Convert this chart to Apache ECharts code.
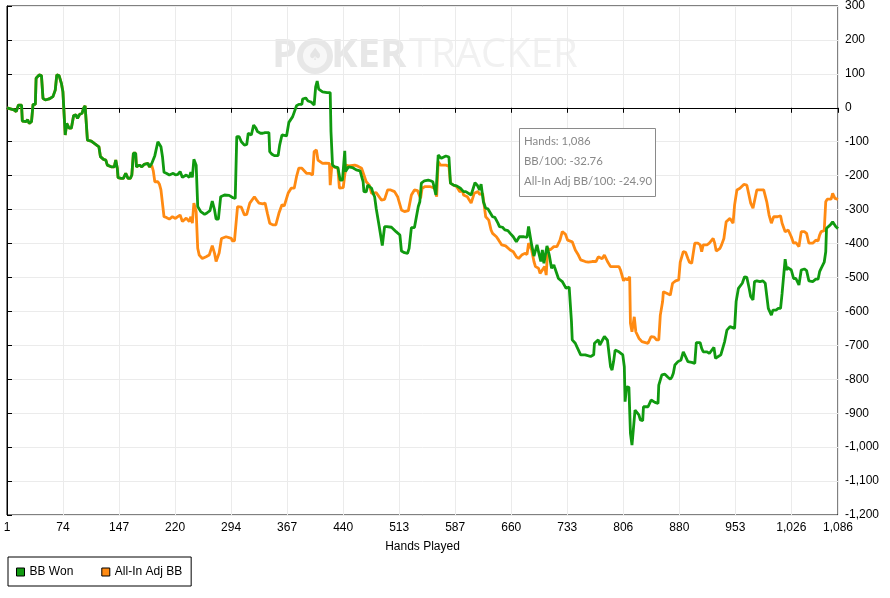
<!DOCTYPE html>
<html>
<head>
<meta charset="utf-8">
<script src="https://cdn.jsdelivr.net/npm/echarts@6/dist/echarts.min.js"></script>
<style>
html,body{margin:0;padding:0;background:#fff;}
#chart{width:890px;height:598px;}
</style>
</head>
<body>
<div id="chart"></div>
<script>
// ---- data (hand number, cumulative BB) ----
var seriesNames = ['BB Won', 'All-In Adj BB'];

var bbWon = [[1,0],[10,-6],[13,-11],[16,8],[20,8],[21,-39],[26,-41],[28,-35],[30,-46],[33,-41],[35,10],[38,10],[39,87],[41,87],[43,97],[46,95],[48,28],[51,23],[56,26],[61,33],[64,52],[66,97],[69,95],[72,72],[74,47],[77,-80],[79,-46],[82,-60],[85,-60],[88,-23],[91,-21],[93,-31],[96,-19],[99,-16],[101,-1],[103,6],[105,4],[106,-95],[111,-98],[115,-105],[117,-110],[121,-115],[123,-144],[127,-152],[130,-154],[132,-169],[137,-174],[141,-174],[143,-154],[145,-178],[146,-206],[150,-208],[153,-208],[156,-193],[159,-208],[162,-208],[164,-198],[166,-134],[169,-134],[170,-174],[174,-169],[177,-174],[180,-167],[185,-164],[187,-174],[190,-164],[192,-169],[194,-141],[195,-141],[198,-100],[200,-100],[202,-115],[204,-144],[206,-190],[209,-193],[213,-198],[215,-200],[218,-193],[221,-198],[224,-196],[227,-188],[230,-205],[232,-205],[235,-198],[237,-193],[239,-205],[241,-190],[243,-205],[245,-152],[248,-169],[250,-291],[254,-306],[259,-314],[262,-310],[266,-303],[269,-275],[272,-301],[274,-328],[277,-328],[280,-262],[285,-257],[291,-258],[296,-265],[299,-267],[301,-85],[304,-85],[307,-100],[311,-110],[314,-108],[316,-75],[320,-80],[323,-51],[326,-60],[328,-70],[332,-75],[335,-75],[338,-73],[343,-73],[344,-129],[347,-137],[350,-141],[355,-141],[357,-110],[360,-80],[362,-83],[366,-83],[369,-43],[371,-39],[374,-26],[376,-24],[379,6],[382,10],[386,10],[387,26],[391,29],[394,20],[398,17],[402,8],[404,62],[406,79],[408,55],[410,53],[413,47],[419,45],[423,45],[424,-70],[426,-169],[429,-174],[433,-176],[436,-213],[439,-213],[442,-127],[443,-188],[444,-188],[447,-174],[452,-176],[457,-183],[462,-186],[466,-218],[467,-247],[470,-248],[472,-228],[474,-226],[477,-237],[479,-252],[481,-262],[483,-296],[485,-293],[487,-350],[489,-350],[491,-406],[492,-404],[494,-350],[497,-350],[503,-352],[505,-350],[509,-365],[514,-375],[516,-422],[520,-427],[524,-429],[526,-414],[529,-353],[533,-353],[535,-350],[538,-291],[540,-277],[542,-222],[546,-215],[551,-213],[554,-215],[557,-218],[559,-215],[561,-257],[564,-139],[566,-141],[568,-149],[570,-147],[574,-142],[578,-145],[580,-222],[584,-228],[588,-230],[593,-237],[595,-242],[597,-247],[600,-247],[602,-252],[607,-257],[609,-257],[612,-221],[615,-228],[618,-242],[620,-225],[621,-222],[623,-277],[626,-296],[629,-298],[635,-321],[638,-323],[642,-340],[644,-350],[648,-352],[651,-360],[655,-362],[658,-370],[662,-380],[666,-395],[668,-395],[670,-380],[676,-380],[680,-382],[682,-350],[684,-353],[686,-404],[689,-437],[690,-440],[693,-404],[696,-434],[698,-453],[700,-419],[702,-458],[703,-458],[706,-407],[709,-434],[712,-473],[715,-463],[716,-470],[721,-503],[726,-512],[728,-512],[731,-532],[733,-528],[735,-528],[738,-630],[739,-684],[743,-694],[745,-704],[750,-728],[756,-728],[763,-733],[767,-728],[768,-694],[773,-684],[775,-699],[777,-694],[781,-674],[785,-685],[787,-724],[789,-763],[791,-773],[793,-748],[795,-714],[800,-719],[801,-714],[805,-728],[807,-763],[808,-866],[810,-822],[813,-824],[815,-959],[817,-994],[819,-989],[821,-891],[823,-893],[826,-905],[828,-920],[831,-922],[832,-881],[838,-881],[839,-884],[842,-861],[847,-868],[851,-871],[852,-817],[856,-787],[860,-785],[864,-794],[867,-800],[869,-794],[871,-782],[873,-758],[877,-748],[879,-750],[881,-743],[884,-719],[886,-719],[890,-748],[895,-750],[899,-753],[901,-692],[906,-692],[908,-709],[910,-719],[915,-719],[918,-724],[920,-719],[924,-706],[926,-738],[928,-738],[933,-728],[935,-724],[938,-689],[941,-655],[945,-645],[947,-650],[951,-650],[953,-571],[956,-532],[958,-535],[961,-517],[964,-498],[967,-500],[970,-532],[972,-556],[975,-566],[977,-512],[980,-510],[984,-512],[988,-510],[991,-517],[995,-591],[999,-611],[1001,-596],[1005,-596],[1008,-591],[1011,-591],[1013,-547],[1014,-547],[1017,-446],[1019,-478],[1020,-470],[1025,-478],[1028,-503],[1031,-503],[1035,-522],[1038,-478],[1042,-475],[1045,-480],[1048,-510],[1053,-512],[1057,-505],[1060,-505],[1062,-483],[1064,-473],[1068,-455],[1070,-424],[1071,-355],[1076,-345],[1079,-336],[1083,-350],[1086,-356]];

var allInAdj = [[1,0],[10,-6],[13,-11],[16,8],[20,8],[21,-39],[26,-41],[28,-35],[30,-46],[33,-41],[35,10],[38,10],[39,87],[41,87],[43,97],[46,95],[48,28],[51,23],[56,26],[61,33],[64,52],[66,97],[69,95],[72,72],[74,47],[77,-80],[79,-46],[82,-60],[85,-60],[88,-23],[91,-21],[93,-31],[96,-19],[99,-16],[101,-1],[103,6],[105,4],[106,-95],[111,-98],[115,-105],[117,-110],[121,-115],[123,-144],[127,-152],[130,-154],[132,-169],[137,-174],[141,-174],[143,-154],[145,-178],[146,-206],[150,-208],[153,-208],[156,-193],[159,-208],[162,-208],[164,-198],[166,-134],[169,-134],[170,-174],[174,-169],[177,-174],[180,-167],[185,-164],[187,-174],[190,-170],[192,-186],[194,-218],[198,-218],[200,-225],[202,-242],[204,-244],[206,-321],[209,-323],[213,-328],[217,-321],[221,-326],[224,-321],[227,-316],[230,-335],[232,-335],[235,-325],[237,-321],[239,-335],[241,-321],[243,-340],[245,-281],[248,-306],[250,-414],[252,-434],[256,-444],[261,-439],[265,-434],[269,-406],[272,-429],[274,-453],[276,-458],[278,-428],[281,-385],[287,-380],[294,-385],[295,-392],[298,-392],[302,-291],[307,-293],[311,-316],[314,-314],[318,-281],[320,-284],[324,-262],[327,-272],[330,-281],[335,-283],[338,-281],[341,-311],[344,-340],[348,-345],[352,-345],[356,-311],[360,-286],[363,-289],[368,-252],[372,-237],[376,-237],[379,-203],[382,-178],[386,-178],[392,-193],[396,-193],[400,-198],[402,-129],[405,-124],[407,-154],[408,-156],[413,-164],[417,-163],[422,-164],[423,-228],[425,-174],[428,-174],[430,-178],[433,-178],[435,-237],[440,-235],[442,-198],[444,-169],[447,-171],[449,-169],[455,-169],[459,-172],[464,-178],[466,-183],[470,-218],[472,-213],[474,-228],[477,-252],[479,-252],[483,-250],[485,-247],[490,-272],[494,-270],[498,-242],[502,-242],[507,-247],[511,-262],[516,-301],[520,-306],[525,-303],[529,-257],[533,-242],[537,-244],[541,-267],[543,-237],[547,-232],[553,-232],[557,-235],[560,-237],[562,-262],[564,-159],[567,-169],[569,-171],[574,-169],[578,-172],[580,-222],[584,-228],[588,-232],[592,-247],[596,-245],[597,-257],[602,-262],[607,-281],[611,-252],[616,-247],[618,-255],[620,-252],[622,-252],[624,-255],[626,-321],[630,-331],[633,-360],[635,-370],[640,-380],[643,-390],[647,-404],[652,-407],[653,-407],[658,-419],[662,-424],[666,-439],[669,-444],[673,-434],[677,-429],[680,-432],[682,-399],[686,-419],[689,-453],[691,-468],[695,-473],[697,-488],[699,-493],[703,-468],[705,-493],[707,-414],[710,-419],[715,-409],[719,-409],[721,-404],[723,-390],[726,-365],[730,-372],[733,-390],[739,-395],[743,-419],[747,-434],[750,-448],[752,-453],[756,-453],[760,-455],[765,-453],[770,-453],[773,-439],[775,-441],[778,-445],[781,-434],[785,-453],[787,-453],[789,-468],[795,-468],[800,-468],[802,-478],[804,-478],[806,-510],[808,-503],[811,-507],[814,-498],[815,-635],[817,-660],[820,-616],[822,-660],[824,-665],[826,-679],[830,-689],[838,-694],[840,-694],[842,-674],[846,-676],[849,-684],[852,-684],[854,-611],[857,-571],[858,-542],[863,-547],[867,-552],[870,-517],[874,-510],[878,-507],[880,-455],[884,-424],[887,-426],[890,-444],[892,-455],[895,-458],[897,-460],[899,-399],[903,-399],[906,-404],[908,-424],[910,-404],[915,-404],[918,-399],[920,-401],[923,-385],[925,-399],[927,-422],[932,-414],[934,-404],[937,-385],[940,-336],[945,-326],[949,-340],[951,-286],[954,-242],[958,-237],[963,-226],[967,-228],[969,-232],[972,-281],[975,-296],[977,-293],[980,-242],[985,-242],[989,-242],[991,-247],[993,-277],[996,-316],[999,-340],[1002,-321],[1007,-321],[1011,-318],[1013,-340],[1017,-365],[1019,-365],[1021,-360],[1025,-380],[1028,-399],[1031,-397],[1035,-409],[1038,-365],[1042,-365],[1045,-370],[1048,-399],[1053,-399],[1057,-390],[1060,-392],[1062,-375],[1064,-365],[1068,-362],[1070,-277],[1072,-269],[1077,-269],[1079,-252],[1082,-267],[1086,-270]];

var xTickHands = [1,74,147,220,294,367,440,513,587,660,733,806,880,953,1026,1086];
var xTickStep = 73.15;   // hands between x ticks
var yMin = -1200, yMax = 300, yStep = 100;
var totalHands = 1086;
var infoLines = ['Hands: 1,086', 'BB/100: -32.76', 'All-In Adj BB/100: -24.90'];

// ---- build ----
function toXY(points) {
  return points.map(function (p) { return [p[0] - 1, p[1]]; });
}
function fmt(n) { return Math.round(n).toLocaleString('en-US'); }

var chart = echarts.init(document.getElementById('chart'), null, { renderer: 'canvas' });
var axisFont = 'Liberation Sans';

var option = {
  animation: false,
  backgroundColor: '#ffffff',
  grid: {
    left: 7, right: 52, top: 6, bottom: 83,
    show: true, borderColor: '#000', borderWidth: 1, backgroundColor: 'transparent'
  },
  legend: {
    data: seriesNames,
    left: 8, top: 557,
    orient: 'horizontal',
    borderColor: '#000', borderWidth: 1,
    padding: [9, 9, 8, 8],
    itemGap: 28,
    itemWidth: 8, itemHeight: 8,
    icon: 'rect',
    itemStyle: { borderColor: '#000', borderWidth: 1 },
    textStyle: { fontFamily: axisFont, fontSize: 12, color: '#000' },
    selectedMode: false
  },
  xAxis: {
    type: 'value',
    min: 0, max: totalHands - 1, interval: xTickStep,
    name: 'Hands Played',
    nameLocation: 'middle', nameGap: 26,
    nameTextStyle: { fontFamily: axisFont, fontSize: 12, color: '#000' },
    axisLine: { show: true, lineStyle: { color: '#000', width: 1 } },
    axisTick: { show: true, length: 5, lineStyle: { color: '#000' } },
    axisLabel: {
      fontFamily: axisFont, fontSize: 12, color: '#000', margin: 7,
      formatter: function (v) {
        var h = v + 1, best = xTickHands[0];
        xTickHands.forEach(function (t) { if (Math.abs(t - h) < Math.abs(best - h)) best = t; });
        return fmt(best);
      }
    },
    splitLine: { show: true, lineStyle: { color: '#ebebeb', width: 1 } }
  },
  yAxis: {
    type: 'value',
    position: 'right',
    min: yMin, max: yMax, interval: yStep,
    axisLine: { show: true, lineStyle: { color: '#000', width: 1 } },
    axisTick: { show: true, length: 5, lineStyle: { color: '#000' } },
    axisLabel: {
      fontFamily: axisFont, fontSize: 12, color: '#000', margin: 7,
      formatter: function (v) { return fmt(v); }
    },
    splitLine: { show: true, lineStyle: { color: '#ebebeb', width: 1 } }
  },
  series: [
    {
      name: seriesNames[0], type: 'line', data: toXY(bbWon),
      z: 4, showSymbol: false, symbol: 'none', smooth: false,
      lineStyle: { color: '#109a10', width: 2.8 },
      itemStyle: { color: '#109a10' }
    },
    {
      name: seriesNames[1], type: 'line', data: toXY(allInAdj),
      z: 3, showSymbol: false, symbol: 'none', smooth: false,
      lineStyle: { color: '#ff8a12', width: 2.8 },
      itemStyle: { color: '#ff8a12' },
      markLine: {
        silent: true, symbol: 'none', label: { show: false },
        lineStyle: { color: '#000', width: 1, type: 'solid' },
        data: [{ yAxis: 0 }], z: 1
      }
    }
  ],
  graphic: [
    { type: 'text', left: 272, top: 36, z: 0, silent: true,
      style: { text: 'P', font: 'bold 40px "Open Sans"', fill: '#e7e7e7' } },
    { type: 'circle', shape: { cx: 315, cy: 56, r: 18 }, z: 0, silent: true,
      style: { fill: '#e7e7e7' } },
    { type: 'circle', shape: { cx: 315, cy: 56, r: 12 }, z: 0, silent: true,
      style: { fill: '#f7f7f7' } },
    { type: 'text', x: 315, y: 56, z: 0, silent: true,
      style: { text: '\u2660', font: '17px "DejaVu Sans"', fill: '#e4e4e4', align: 'center', verticalAlign: 'middle' } },
    { type: 'text', left: 331, top: 36, z: 0, silent: true,
      style: { text: 'KER', font: 'bold 40px "Open Sans"', fill: '#e7e7e7' } },
    { type: 'text', left: 409, top: 36, z: 0, silent: true,
      style: { text: 'TRACKER', font: '40px "Open Sans"', fill: '#f1f1f1' } },
    { type: 'rect', shape: { x: 519.5, y: 128.5, width: 136, height: 68 }, z: 100, silent: true,
      style: { fill: '#fff', stroke: '#8a8a8a', lineWidth: 1 } },
    { type: 'text', x: 524, y: 141, z: 101, silent: true,
      style: { text: infoLines[0], font: '11.4px Lato', fill: '#888', verticalAlign: 'middle' } },
    { type: 'text', x: 524, y: 161, z: 101, silent: true,
      style: { text: infoLines[1], font: '11.4px Lato', fill: '#888', verticalAlign: 'middle' } },
    { type: 'text', x: 524, y: 181, z: 101, silent: true,
      style: { text: infoLines[2], font: '11.4px Lato', fill: '#888', verticalAlign: 'middle' } }
  ]
};
chart.setOption(option);
</script>
</body>
</html>
